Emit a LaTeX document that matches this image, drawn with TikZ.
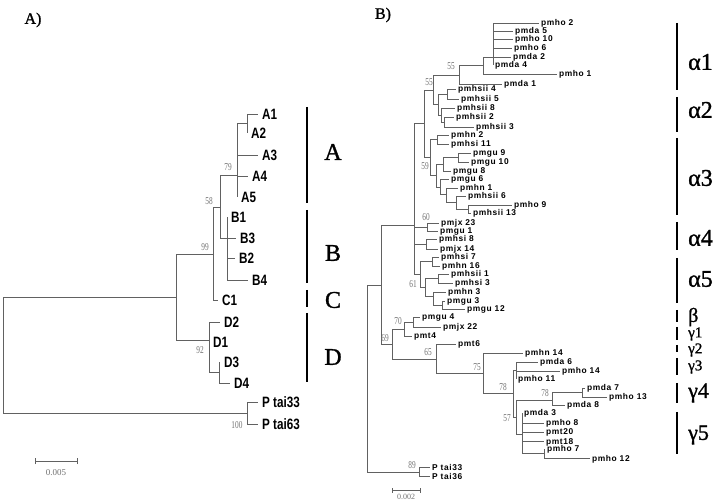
\documentclass[tikz,border=0pt]{standalone}
\usepackage{fontspec}
\setmainfont{Liberation Serif}
\newfontfamily\heavyserif[FakeBold=1.2]{Liberation Serif}
\newfontfamily\leafAfont[FakeStretch=0.78]{Liberation Sans}
\newfontfamily\leafBfont[LetterSpace=7]{Liberation Sans}
\newfontfamily\bootfont[FakeStretch=0.7]{Liberation Serif}
\begin{document}
\begin{tikzpicture}[x=1pt,y=-1pt,
  br/.style={draw=black!62, line width=0.65pt},
  bar/.style={line width=2.6pt},
  leafA/.style={anchor=west, inner xsep=4pt, inner ysep=0pt, font=\leafAfont\bfseries\fontsize{15}{15}\selectfont, text height=11pt, text depth=0pt},
  leafB/.style={anchor=west, inner xsep=2pt, inner ysep=0pt, font=\leafBfont\bfseries\fontsize{8.4}{8.4}\selectfont, text height=6pt, text depth=0pt},
  boot/.style={inner sep=0pt, text=black!55, font=\bootfont\fontsize{10.5}{10.5}\selectfont},
  clA/.style={inner sep=0pt, font=\heavyserif\fontsize{24}{24}\selectfont},
  gr/.style={anchor=west, inner sep=0pt, font=\heavyserif\fontsize{24}{24}\selectfont},
  grs/.style={anchor=west, inner sep=0pt, font=\heavyserif\fontsize{15}{15}\selectfont},
  panel/.style={inner sep=0pt, font=\heavyserif\fontsize{16}{16}\selectfont},
  sc/.style={inner sep=0pt, text=black!55, font=\fontsize{9}{9}\selectfont}]
\useasboundingbox[fill=white] (0,0) rectangle (715,502);

% ---------------- Panel A ----------------
\node[panel] (labA) at (33,20) {A)};
\coordinate (aR) at (3,356);
\coordinate (a176) at (176,297);
\coordinate (a99) at (213,254);
\coordinate (a58) at (220,207);
\coordinate (aA) at (237,175);
\coordinate (a12) at (247,123);
\coordinate (aB) at (227,238);
\coordinate (aD) at (209,340);
\coordinate (aD34) at (219,372);
\coordinate (aP) at (247,413);

\node[leafA] (A1) at (258,114) {A1};
\node[leafA] (A2) at (247,133) {A2};
\node[leafA] (A3) at (258,155) {A3};
\node[leafA] (A4) at (248,176) {A4};
\node[leafA] (A5) at (237,197) {A5};
\node[leafA] (B1) at (227,217) {B1};
\node[leafA] (B3) at (236,238) {B3};
\node[leafA] (B2) at (235,258) {B2};
\node[leafA] (B4) at (248,280) {B4};
\node[leafA] (C1) at (218,300) {C1};
\node[leafA] (D2) at (220,322) {D2};
\node[leafA] (D1) at (209,342) {D1};
\node[leafA] (D3) at (220,362) {D3};
\node[leafA] (D4) at (230,383) {D4};
\node[leafA] (P33) at (258,402) {P tai33};
\node[leafA] (P63) at (258,424) {P tai63};

\draw[br] (aR) |- (a176);
\draw[br] (aR) |- (aP);
\draw[br] (a176) |- (a99);
\draw[br] (a176) |- (aD);
\draw[br] (a99) |- (a58);
\draw[br] (a99) |- (C1.west);
\draw[br] (a58) |- (aA);
\draw[br] (a58) |- (aB);
\draw[br] (aA) |- (a12);
\draw[br] (aA) |- (A3.west);
\draw[br] (aA) |- (A4.west);
\draw[br] (aA) |- (A5.west);
\draw[br] (a12) |- (A1.west);
\draw[br] (a12) |- (A2.west);
\draw[br] (aB) |- (B1.west);
\draw[br] (aB) |- (B3.west);
\draw[br] (aB) |- (B2.west);
\draw[br] (aB) |- (B4.west);
\draw[br] (aD) |- (D2.west);
\draw[br] (aD) |- (D1.west);
\draw[br] (aD) |- (aD34);
\draw[br] (aD34) |- (D3.west);
\draw[br] (aD34) |- (D4.west);
\draw[br] (aP) |- (P33.west);
\draw[br] (aP) |- (P63.west);

\node[boot] (bA79) at (228,167) {79};
\node[boot] (bA58) at (209,201) {58};
\node[boot] (bA99) at (205,247) {99};
\node[boot] (bA92) at (200,350) {92};
\node[boot] (bA100) at (237,425) {100};

\coordinate (sA1) at (35,461);
\coordinate (sA2) at (77,461);
\draw[br] (sA1) -- (sA2);
\draw[br] ([yshift=-3pt]sA1) -- ([yshift=3pt]sA1);
\draw[br] ([yshift=-3pt]sA2) -- ([yshift=3pt]sA2);
\node[sc] (scA) at (56,473) {0.005};

\draw[bar] (307,107) -- (307,203);
\draw[bar] (307,210) -- (307,283);
\draw[bar] (307,290) -- (307,307);
\draw[bar] (307,313) -- (307,382);
\node[clA] (cA) at (333,152) {A};
\node[clA] (cB) at (333,253) {B};
\node[clA] (cC) at (333,300) {C};
\node[clA] (cD) at (333,357) {D};

% ---------------- Panel B ----------------
\node[panel] (labB) at (383,15) {B)};

\node[leafB] (b1) at (539,23) {pmho 2};
\node[leafB] (b2) at (513,31) {pmda 5};
\node[leafB] (b3) at (513,39) {pmho 10};
\node[leafB] (b4) at (512,48) {pmho 6};
\node[leafB] (b5) at (511,57) {pmda 2};
\node[leafB] (b6) at (493,65) {pmda 4};
\node[leafB] (b7) at (557,74) {pmho 1};
\node[leafB] (b8) at (502,84) {pmda 1};
\node[leafB] (b9) at (456,89) {pmhsii 4};
\node[leafB] (b10) at (459,99) {pmhsii 5};
\node[leafB] (b11) at (455,108) {pmhsii 8};
\node[leafB] (b12) at (454,117) {pmhsii 2};
\node[leafB] (b13) at (474,127) {pmhsii 3};
\node[leafB] (b14) at (449,135) {pmhn 2};
\node[leafB] (b15) at (449,144) {pmhsi 11};
\node[leafB] (b16) at (471,153) {pmgu 9};
\node[leafB] (b17) at (469,162) {pmgu 10};
\node[leafB] (b18) at (451,171) {pmgu 8};
\node[leafB] (b19) at (449,179) {pmgu 6};
\node[leafB] (b20) at (458,188) {pmhn 1};
\node[leafB] (b21) at (466,196) {pmhsii 6};
\node[leafB] (b22) at (512,205) {pmho 9};
\node[leafB] (b23) at (471,213) {pmhsii 13};
\node[leafB] (b24) at (439,223) {pmjx 23};
\node[leafB] (b25) at (438,231) {pmgu 1};
\node[leafB] (b26) at (437,239) {pmhsi 8};
\node[leafB] (b27) at (438,249) {pmjx 14};
\node[leafB] (b28) at (439,257) {pmhsi 7};
\node[leafB] (b29) at (440,266) {pmhn 16};
\node[leafB] (b30) at (449,274) {pmhsii 1};
\node[leafB] (b31) at (453,283) {pmhsi 3};
\node[leafB] (b32) at (446,292) {pmhn 3};
\node[leafB] (b33) at (445,301) {pmgu 3};
\node[leafB] (b34) at (465,309) {pmgu 12};
\node[leafB] (b35) at (420,317) {pmgu 4};
\node[leafB] (b36) at (441,327) {pmjx 22};
\node[leafB] (b37) at (412,336) {pmt4};
\node[leafB] (b38) at (456,344) {pmt6};
\node[leafB] (b39) at (523,353) {pmhn 14};
\node[leafB] (b40) at (538,362) {pmda 6};
\node[leafB] (b41) at (560,371) {pmho 14};
\node[leafB] (b42) at (516,379) {pmho 11};
\node[leafB] (b43) at (585,388) {pmda 7};
\node[leafB] (b44) at (607,397) {pmho 13};
\node[leafB] (b45) at (565,405) {pmda 8};
\node[leafB] (b46) at (522,413) {pmda 3};
\node[leafB] (b47) at (544,423) {pmho 8};
\node[leafB] (b48) at (544,432) {pmt20};
\node[leafB] (b49) at (544,441) {pmt18};
\node[leafB] (b50) at (545,449) {pmho 7};
\node[leafB] (b51) at (590,458) {pmho 12};
\node[leafB] (b52) at (430,467) {P tai33};
\node[leafB] (b53) at (430,476) {P tai36};

\coordinate (p1) at (493,57);
\coordinate (p2) at (483,65);
\coordinate (p3) at (459,75);
\coordinate (q45) at (447,94);
\coordinate (q23) at (444,122);
\coordinate (q823) at (441,115);
\coordinate (qa2) at (438,104);
\coordinate (n55) at (433,90);
\coordinate (r1) at (437,139);
\coordinate (r910) at (458,157);
\coordinate (r8) at (443,164);
\coordinate (r913) at (468,209);
\coordinate (r6) at (456,202);
\coordinate (r1b) at (446,194);
\coordinate (r6b) at (440,187);
\coordinate (r59) at (436,175);
\coordinate (ra3) at (430,157);
\coordinate (na123) at (424,123);
\coordinate (s1) at (427,227);
\coordinate (s2) at (426,244);
\coordinate (t1) at (432,261);
\coordinate (t2) at (438,278);
\coordinate (t312) at (442,305);
\coordinate (t3) at (433,296);
\coordinate (t4) at (425,287);
\coordinate (t61) at (420,274);
\coordinate (nAl) at (414,225);
\coordinate (u422) at (413,322);
\coordinate (u70) at (404,329);
\coordinate (v3) at (516,370);
\coordinate (w713) at (582,392);
\coordinate (w78) at (552,400);
\coordinate (w712) at (544,453);
\coordinate (wg5) at (522,434);
\coordinate (wg45) at (516,417);
\coordinate (w78a) at (513,393);
\coordinate (w75) at (483,373);
\coordinate (u65) at (436,359);
\coordinate (u69) at (392,344);
\coordinate (nI) at (381,285);
\coordinate (pt) at (419,472);
\coordinate (RB) at (367,378);

\foreach \c in {b1,b2,b3,b4,b5,b6} \draw[br] (p1) |- (\c.west);
\draw[br] (p2) |- (p1); \draw[br] (p2) |- (b7.west);
\draw[br] (p3) |- (p2); \draw[br] (p3) |- (b8.west);
\draw[br] (q45) |- (b9.west); \draw[br] (q45) |- (b10.west);
\draw[br] (q23) |- (b12.west); \draw[br] (q23) |- (b13.west);
\draw[br] (q823) |- (b11.west); \draw[br] (q823) |- (q23);
\draw[br] (qa2) |- (q45); \draw[br] (qa2) |- (q823);
\draw[br] (n55) |- (p3); \draw[br] (n55) |- (qa2);
\draw[br] (r1) |- (b14.west); \draw[br] (r1) |- (b15.west);
\draw[br] (r910) |- (b16.west); \draw[br] (r910) |- (b17.west);
\draw[br] (r8) |- (r910); \draw[br] (r8) |- (b18.west);
\draw[br] (r913) |- (b22.west); \draw[br] (r913) |- (b23.west);
\draw[br] (r6) |- (b21.west); \draw[br] (r6) |- (r913);
\draw[br] (r1b) |- (b20.west); \draw[br] (r1b) |- (r6);
\draw[br] (r6b) |- (b19.west); \draw[br] (r6b) |- (r1b);
\draw[br] (r59) |- (r8); \draw[br] (r59) |- (r6b);
\draw[br] (ra3) |- (r1); \draw[br] (ra3) |- (r59);
\draw[br] (na123) |- (n55); \draw[br] (na123) |- (ra3);
\draw[br] (s1) |- (b24.west); \draw[br] (s1) |- (b25.west);
\draw[br] (s2) |- (b26.west); \draw[br] (s2) |- (b27.west);
\draw[br] (t1) |- (b28.west); \draw[br] (t1) |- (b29.west);
\draw[br] (t2) |- (b30.west); \draw[br] (t2) |- (b31.west);
\draw[br] (t312) |- (b33.west); \draw[br] (t312) |- (b34.west);
\draw[br] (t3) |- (b32.west); \draw[br] (t3) |- (t312);
\draw[br] (t4) |- (t2); \draw[br] (t4) |- (t3);
\draw[br] (t61) |- (t1); \draw[br] (t61) |- (t4);
\draw[br] (nAl) |- (na123); \draw[br] (nAl) |- (s1);
\draw[br] (nAl) |- (s2); \draw[br] (nAl) |- (t61);
\draw[br] (u422) |- (b35.west); \draw[br] (u422) |- (b36.west);
\draw[br] (u70) |- (u422); \draw[br] (u70) |- (b37.west);
\draw[br] (v3) |- (b40.west); \draw[br] (v3) |- (b41.west); \draw[br] (v3) |- (b42.west);
\draw[br] (w713) |- (b43.west); \draw[br] (w713) |- (b44.west);
\draw[br] (w78) |- (w713); \draw[br] (w78) |- (b45.west);
\draw[br] (w712) |- (b50.west); \draw[br] (w712) |- (b51.west);
\foreach \c in {b46,b47,b48,b49} \draw[br] (wg5) |- (\c.west);
\draw[br] (wg5) |- (w712);
\draw[br] (wg45) |- (w78); \draw[br] (wg45) |- (wg5);
\draw[br] (w78a) |- (v3); \draw[br] (w78a) |- (wg45);
\draw[br] (w75) |- (b39.west); \draw[br] (w75) |- (w78a);
\draw[br] (u65) |- (b38.west); \draw[br] (u65) |- (w75);
\draw[br] (u69) |- (u70); \draw[br] (u69) |- (u65);
\draw[br] (nI) |- (nAl); \draw[br] (nI) |- (u69);
\draw[br] (pt) |- (b52.west); \draw[br] (pt) |- (b53.west);
\draw[br] (RB) |- (nI); \draw[br] (RB) |- (pt);

\node[boot] (bB55a) at (451,66) {55};
\node[boot] (bB55b) at (429,82) {55};
\node[boot] (bB59) at (425,166) {59};
\node[boot] (bB60) at (426,217) {60};
\node[boot] (bB61) at (413,284) {61};
\node[boot] (bB70) at (398,321) {70};
\node[boot] (bB69) at (385,338) {69};
\node[boot] (bB65) at (428,352) {65};
\node[boot] (bB75) at (477,367) {75};
\node[boot] (bB78a) at (503,387) {78};
\node[boot] (bB78b) at (545,393) {78};
\node[boot] (bB57) at (507,418) {57};
\node[boot] (bB89) at (412,465) {89};

\coordinate (sB1) at (392,490);
\coordinate (sB2) at (420,490);
\draw[br] (sB1) -- (sB2);
\draw[br] ([yshift=-2.5pt]sB1) -- ([yshift=2.5pt]sB1);
\draw[br] ([yshift=-2.5pt]sB2) -- ([yshift=2.5pt]sB2);
\node[sc, font=\fontsize{8}{8}\selectfont] (scB) at (406,497) {0.002};

\draw[bar] (677,23) -- (677,90);
\draw[bar] (677,97) -- (677,132);
\draw[bar] (677,138) -- (677,215);
\draw[bar] (677,222) -- (677,250);
\draw[bar] (677,258) -- (677,303);
\draw[bar] (677,310) -- (677,322);
\draw[bar] (677,327) -- (677,340);
\draw[bar] (677,345) -- (677,352);
\draw[bar] (677,358) -- (677,375);
\draw[bar] (677,383) -- (677,403);
\draw[bar] (677,412) -- (677,454);
\node[gr] (g1) at (688,62) {α1};
\node[gr] (g2) at (688,110) {α2};
\node[gr] (g3) at (688,178) {α3};
\node[gr] (g4) at (688,238) {α4};
\node[gr] (g5) at (688,279) {α5};
\node[gr, font=\heavyserif\fontsize{20}{20}\selectfont] (gb) at (688,317) {β};
\node[grs] (gg1) at (688,334) {γ1};
\node[grs] (gg2) at (688,350) {γ2};
\node[grs] (gg3) at (688,367) {γ3};
\node[gr, font=\heavyserif\fontsize{22}{22}\selectfont] (gg4) at (688,393) {γ4};
\node[gr, font=\heavyserif\fontsize{22}{22}\selectfont] (gg5) at (688,435) {γ5};
\end{tikzpicture}
\end{document}
